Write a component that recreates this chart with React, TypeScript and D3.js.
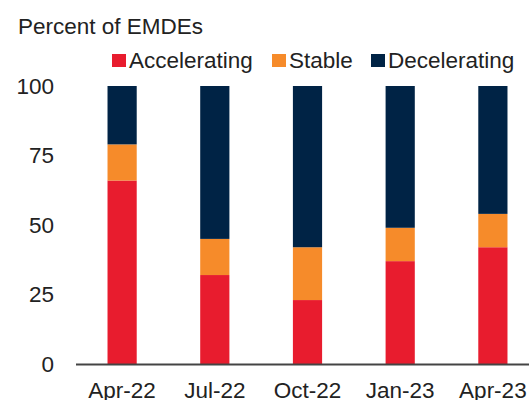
import React from 'react'
import * as d3 from 'd3'

const categories = ['Apr-22', 'Jul-22', 'Oct-22', 'Jan-23', 'Apr-23']
const accelerating = [66, 32, 23, 37, 42]
const stable = [13, 13, 19, 12, 12]
const decelerating = [21, 55, 58, 51, 46]
const seriesNames = ['Accelerating', 'Stable', 'Decelerating']
const seriesColors = ['#E81C2E', '#F68B2A', '#002345']
const yTicks = [0, 25, 50, 75, 100]

const W = 529
const H = 400
const FONT = '"Liberation Sans", Arial, sans-serif'

const App = () => {
  const svgRef = React.useRef<SVGSVGElement>(null)

  React.useEffect(() => {
    const svg = d3.select(svgRef.current)
    svg.selectAll('*').remove()

    const rows = categories.map((c, i) => ({
      cat: c,
      Accelerating: accelerating[i],
      Stable: stable[i],
      Decelerating: decelerating[i],
    }))
    const stacked = d3.stack<any>().keys(seriesNames)(rows)

    const x = d3.scaleBand().domain(categories).range([76, 539]).paddingInner(0.685).paddingOuter(0.34)
    const y = d3.scaleLinear().domain([0, 100]).range([364, 86])

    svg.append('text')
      .attr('x', 18).attr('y', 34)
      .style('font', `22.5px ${FONT}`)
      .attr('fill', '#222')
      .text('Percent of EMDEs')

    // legend
    const legX = [112, 272, 371]
    const leg = svg.append('g').style('font', `22.5px ${FONT}`)
    seriesNames.forEach((name, i) => {
      leg.append('rect').attr('x', legX[i]).attr('y', 54).attr('width', 14).attr('height', 13)
        .attr('fill', seriesColors[i])
      leg.append('text').attr('x', legX[i] + 17).attr('y', 68).attr('fill', '#222').text(name)
    })

    // bars
    svg.append('g')
      .selectAll('g')
      .data(stacked)
      .join('g')
      .attr('fill', (_d, i) => seriesColors[i])
      .selectAll('rect')
      .data((d) => d)
      .join('rect')
      .attr('x', (d: any) => x(d.data.cat)!)
      .attr('width', x.bandwidth())
      .attr('y', (d) => y(d[1]))
      .attr('height', (d) => y(d[0]) - y(d[1]))

    // y labels
    svg.append('g')
      .style('font', `22.5px ${FONT}`)
      .attr('text-anchor', 'end')
      .selectAll('text')
      .data(yTicks)
      .join('text')
      .attr('x', 54)
      .attr('y', (d) => y(d))
      .attr('dy', '0.35em')
      .attr('fill', '#222')
      .text((d) => d)

    // x axis line
    svg.append('line')
      .attr('x1', 76).attr('x2', W)
      .attr('y1', 364.5).attr('y2', 364.5)
      .attr('stroke', '#444').attr('stroke-width', 1.8)

    svg.append('g')
      .style('font', `22.5px ${FONT}`)
      .attr('text-anchor', 'middle')
      .selectAll('text')
      .data(categories)
      .join('text')
      .attr('x', (d) => x(d)! + x.bandwidth() / 2)
      .attr('y', 398)
      .attr('fill', '#222')
      .text((d) => d)
  }, [])

  return (
    <svg
      ref={svgRef}
      width={W}
      height={H}
      style={{ position: 'absolute', left: 0, top: 0, background: '#fff' }}
    />
  )
}

export default App
